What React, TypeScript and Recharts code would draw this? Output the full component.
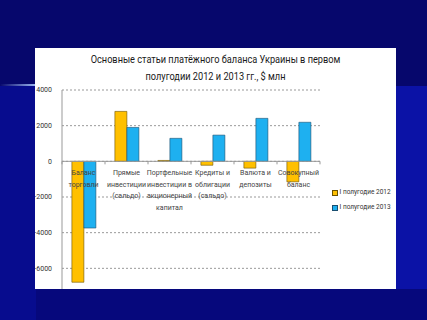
import React from "react";
import { BarChart, Bar, XAxis, YAxis, CartesianGrid, ReferenceLine } from "recharts";

const categories = [
  ["Баланс", "торговли"],
  ["Прямые", "инвестиции", "(сальдо)"],
  ["Портфельные", "инвестиции в", "акционерный", "капитал"],
  ["Кредиты и", "облигации", "(сальдо)"],
  ["Валюта и", "депозиты"],
  ["Совокупный", "баланс"],
];
const h2012 = [-6780, 2800, 50, -220, -380, -1150];
const h2013 = [-3740, 1900, 1290, 1470, 2410, 2190];
const yTicks = [-6000, -4000, -2000, 0, 2000, 4000];
const seriesNames = ["I полугодие 2012", "I полугодие 2013"];
const seriesColors = ["#FFC000", "#1EB0F0"];
const seriesStrokes = ["#6b5200", "#1a4f70"];
const titleLines = ["Основные статьи платёжного баланса Украины в первом", "полугодии 2012 и 2013 гг., $ млн"];

const data = categories.map((c, i) => ({ name: c.join(" "), a: h2012[i], b: h2013[i] }));

const W = 361;
const H = 270;
const M = { top: 42, right: 76, left: 0, bottom: 0 };
const Y_W = 27;
const X_H = 14;
const DOMAIN: [number, number] = [-8000, 4000];
const plotH = H - M.top - M.bottom - X_H;
const plotW = W - M.left - M.right - Y_W;
const zeroY = M.top + plotH * (DOMAIN[1] / (DOMAIN[1] - DOMAIN[0]));
const band = plotW / categories.length;

const CatTick = (props: any) => {
  const { x, index } = props;
  const lines = categories[index] || [];
  return (
    <g>
      <line x1={x + band / 2} x2={x + band / 2} y1={zeroY} y2={zeroY + 3} stroke="#999" />
      {index === 0 && <line x1={x - band / 2} x2={x - band / 2} y1={zeroY} y2={zeroY + 3} stroke="#999" />}
      {lines.map((l, k) => (
        <text key={k} x={x} y={zeroY + 14 + k * 11.5} textAnchor="middle" fontSize={7} fill="#444" fontFamily="Roboto, sans-serif">
          {l}
        </text>
      ))}
    </g>
  );
};

export default function App() {
  return (
    <div style={{ position: "absolute", left: 0, top: 0, width: 427, height: 320, overflow: "hidden", background: "#0b12a6" }}>
      <div style={{ position: "absolute", left: 0, top: 0, width: 427, height: 86, background: "#06076c" }} />
      <div style={{ position: "absolute", left: 0, top: 86, width: 36, height: 234, background: "#070c8e" }} />
      <div style={{ position: "absolute", left: 36, top: 289, width: 391, height: 31, background: "#06087c" }} />
      <div style={{ position: "absolute", left: 0, top: 84, width: 35, height: 2, background: "linear-gradient(90deg, rgba(120,160,255,0) 0%, rgba(170,200,255,0.9) 100%)" }} />
      <div style={{ position: "absolute", left: 35, top: 48, width: W, height: 241, background: "#fff", overflow: "hidden" }}>
        <div style={{ position: "absolute", left: 0, top: 3, width: W, textAlign: "center", fontFamily: "Roboto, sans-serif", fontSize: 11.5, color: "#1a1a1a", lineHeight: "17px", transform: "scaleX(0.8)", transformOrigin: "center top" }}>
          {titleLines.map((t, i) => (
            <div key={i} style={{ whiteSpace: "nowrap" }}>{t}</div>
          ))}
        </div>
        <BarChart width={W} height={H} data={data} margin={M} barCategoryGap="23%" barGap={0}>
          <CartesianGrid vertical={false} stroke="#999" strokeDasharray="2 2" />
          <YAxis
            width={Y_W}
            domain={DOMAIN}
            ticks={yTicks}
            interval={0}
            axisLine={{ stroke: "#999" }}
            tickLine={false}
            tickMargin={4}
            tick={{ fontSize: 7, fill: "#333", fontFamily: "Roboto, sans-serif" }}
          />
          <XAxis dataKey="name" height={X_H} axisLine={false} tickLine={false} interval={0} tick={<CatTick />} />
          <ReferenceLine y={0} stroke="#999" />
          <Bar dataKey="a" name={seriesNames[0]} fill={seriesColors[0]} stroke={seriesStrokes[0]} strokeWidth={0.6} isAnimationActive={false} />
          <Bar dataKey="b" name={seriesNames[1]} fill={seriesColors[1]} stroke={seriesStrokes[1]} strokeWidth={0.6} isAnimationActive={false} />
        </BarChart>
        <div style={{ position: "absolute", left: 297, top: 137, fontFamily: "Roboto, sans-serif", fontSize: 6.5, color: "#333", lineHeight: "15px" }}>
          {seriesNames.map((n, i) => (
            <div key={i} style={{ whiteSpace: "nowrap", display: "flex", alignItems: "center" }}>
              <span style={{ display: "inline-block", width: 4, height: 4, background: seriesColors[i], border: `0.7px solid ${seriesStrokes[i]}`, marginRight: 1.5 }} />
              {n}
            </div>
          ))}
        </div>
      </div>
    </div>
  );
}
